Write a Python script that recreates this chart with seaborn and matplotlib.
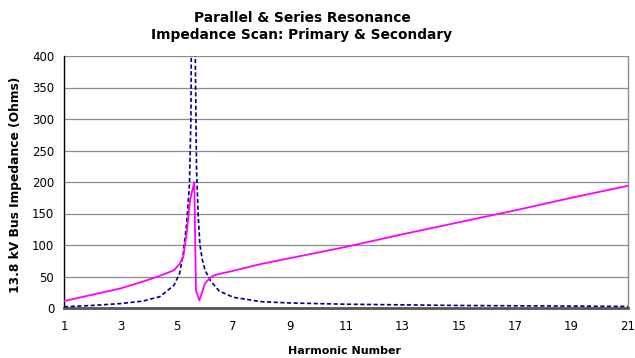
import matplotlib
matplotlib.use("Agg")
import matplotlib.pyplot as plt
import seaborn as sns
import pandas as pd

# Magenta (solid) impedance curve
h_mag = [1, 2, 3, 3.8, 4.4, 4.9, 5.1, 5.23, 5.35, 5.47, 5.62, 5.68, 5.80,
         6.0, 6.2, 6.4, 7, 8, 9, 10, 11, 13, 15, 17, 19, 21]
z_mag = [11, 21, 31, 42, 51, 60, 70, 81, 119, 171, 200, 28, 12,
         39, 49, 53, 59, 70, 79, 88, 97, 117, 136, 155, 175, 194]

# Navy (dashed) impedance curve
h_blue = [1, 2, 3, 3.8, 4.4, 4.9, 5.1, 5.23, 5.35, 5.45, 5.5, 5.55, 5.6,
          5.65, 5.7, 5.76, 5.82, 5.9, 6.0, 6.2, 6.5, 7, 8, 9, 10, 11,
          13, 15, 17, 19, 21]
z_blue = [2, 4, 7, 11, 18, 36, 55, 87, 134, 197, 300, 700, 1200,
          420, 220, 145, 100, 78, 60, 43, 27, 17, 10, 8, 7, 6,
          5, 4, 3.5, 3, 2.5]

x_ticks = [1, 3, 5, 7, 9, 11, 13, 15, 17, 19, 21]
y_ticks = [0, 50, 100, 150, 200, 250, 300, 350, 400]

title_lines = ["Parallel & Series Resonance", "Impedance Scan: Primary & Secondary"]
x_label = "Harmonic Number"
y_label = "13.8 kV Bus Impedance (Ohms)"

sns.set_style("white")
plt.rcParams['font.family'] = ['DejaVu Sans']
plt.rcParams['text.color'] = 'black'

df_mag = pd.DataFrame({"h": h_mag, "z": z_mag})
df_blue = pd.DataFrame({"h": h_blue, "z": z_blue})

W, H = 635, 358
fig = plt.figure(figsize=(6.35, 3.58), dpi=100)
ax = fig.add_axes([64/W, 50/H, (628-64)/W, (308-56)/H])

for y in y_ticks[1:]:
    ax.axhline(y, color="#8c8c8c", lw=0.9, zorder=0)

sns.lineplot(data=df_blue, x="h", y="z", ax=ax, color="#000080", lw=1.2,
             linestyle=(0, (2.5, 1.5)), sort=False, zorder=3)
sns.lineplot(data=df_mag, x="h", y="z", ax=ax, color="#FF00FF", lw=1.3,
             sort=False, zorder=4)

ax.set_xlim(1, 21)
ax.set_ylim(0, 400)
ax.set_xticks(x_ticks)
ax.set_yticks(y_ticks)
ax.set_xticklabels([str(t) for t in x_ticks], fontsize=8.5)
ax.set_yticklabels([str(t) for t in y_ticks], fontsize=8.5)
ax.tick_params(axis="both", which="both", direction="out", length=4,
               width=1, color="#444444", labelcolor="black")
ax.tick_params(axis="x", pad=5)
ax.tick_params(axis="y", pad=3, color="black")

ax.spines["top"].set_visible(False)
ax.spines["right"].set_color("#8c8c8c")
ax.spines["right"].set_linewidth(1.0)
ax.spines["left"].set_color("black")
ax.spines["left"].set_linewidth(1.0)
ax.spines["bottom"].set_color("#555555")
ax.spines["bottom"].set_linewidth(2.0)

ax.set_xlabel("")
ax.set_ylabel("")
fig.text(345/W, 1 - 351/H, x_label, ha="center", va="center",
         fontsize=8, fontweight="bold", color="black")
fig.text(16/W, 1 - 185/H, y_label, ha="center", va="center",
         rotation=90, fontsize=8.8, fontweight="bold", color="black")
fig.text(302/W, 1 - 22/H, title_lines[0], ha="center", va="baseline",
         fontsize=9.9, fontweight="bold", color="black")
fig.text(302/W, 1 - 38.5/H, title_lines[1], ha="center", va="baseline",
         fontsize=9.9, fontweight="bold", color="black")

fig.savefig("out.png", dpi=100, facecolor="white")
